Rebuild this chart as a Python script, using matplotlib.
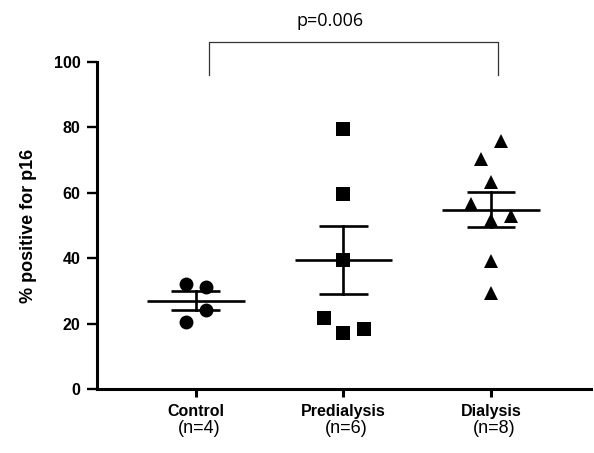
import numpy as np
import matplotlib
matplotlib.use("Agg")
import matplotlib.pyplot as plt
from matplotlib.transforms import blended_transform_factory

# ---- data ----
categories = ["Control", "Predialysis", "Dialysis"]
n_labels = ["(n=4)", "(n=6)", "(n=8)"]
control = [32.1, 31.3, 24.2, 20.4]
predialysis = [79.6, 59.7, 39.5, 21.8, 17.2, 18.5]
dialysis = [75.7, 70.3, 63.3, 56.7, 52.8, 51.8, 39.0, 29.5]
# horizontal jitter of points within each group (category units)
control_jitter = [-0.07, 0.066, 0.066, -0.07]
predialysis_jitter = [0.0, 0.0, 0.0, -0.13, 0.0, 0.136]
dialysis_jitter = [0.066, -0.068, 0.0, -0.138, 0.134, 0.0, 0.0, 0.0]
y_ticks = [0, 20, 40, 60, 80, 100]
p_text = "p=0.006"

groups = [control, predialysis, dialysis]
jitters = [control_jitter, predialysis_jitter, dialysis_jitter]
markers = ["o", "s", "^"]

fig = plt.figure(figsize=(5.94, 4.53), dpi=100)
ax = fig.add_axes([97/594, 1 - 389/453, (591-97)/594, (389-62)/453])

font = "Liberation Sans"

for i, (vals, jit, m) in enumerate(zip(groups, jitters, markers)):
    vals = np.array(vals)
    xs = i + np.array(jit)
    mean = vals.mean()
    sem = vals.std(ddof=1) / np.sqrt(len(vals))
    ax.plot([i - 0.33, i + 0.33], [mean, mean], color="black", lw=1.9, zorder=2,
            solid_capstyle="butt")
    ax.plot([i, i], [mean - sem, mean + sem], color="black", lw=1.9, zorder=2)
    for yv in (mean - sem, mean + sem):
        ax.plot([i - 0.166, i + 0.166], [yv, yv], color="black", lw=1.9, zorder=2,
                solid_capstyle="butt")
    ax.plot(xs, vals, linestyle="none", marker=m, markersize=10,
            color="black", markeredgewidth=0, zorder=3)

ax.set_xlim(-0.671, 2.678)
ax.set_ylim(0, 100)
ax.set_yticks(y_ticks)
ax.set_yticklabels([str(t) for t in y_ticks], fontfamily=font, fontweight="bold",
                   fontsize=11.5)
ax.set_xticks(range(len(categories)))
ax.set_xticklabels(categories, fontfamily=font, fontweight="bold", fontsize=11.5)

for s in ["top", "right"]:
    ax.spines[s].set_visible(False)
for s in ["left", "bottom"]:
    ax.spines[s].set_linewidth(2.2)
ax.tick_params(axis="y", length=7, width=1.7, pad=5)
ax.tick_params(axis="x", length=6, width=2.2, pad=5)

ax.set_ylabel("% positive for p16", fontfamily=font, fontweight="bold",
              fontsize=13, labelpad=12)

trans = blended_transform_factory(ax.transData, ax.transAxes)
for i, lab in enumerate(n_labels):
    ax.text(i + 0.02, -0.095, lab, transform=trans, ha="center", va="top",
            fontfamily=font, fontsize=13)

# significance bracket
bx0, bx1, by_top, by_bot = 0.09, 2.05, 106.2, 96.0
ax.plot([bx0, bx0, bx1, bx1], [by_bot, by_top, by_top, by_bot], color="#333333",
        lw=0.9, clip_on=False)
ax.text(0.908, 112.5, p_text, ha="center", va="center", fontfamily="Open Sans",
        fontsize=13, clip_on=False)

fig.savefig("out.png", dpi=100)
